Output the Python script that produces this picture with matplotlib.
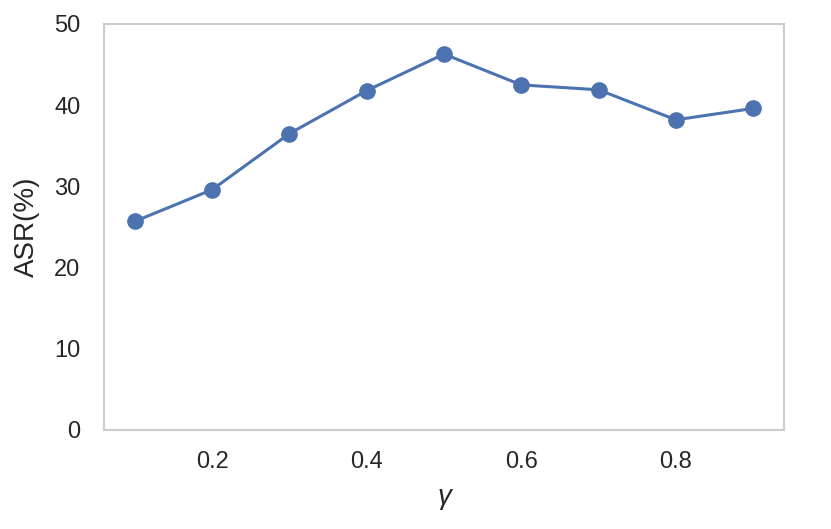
import matplotlib
matplotlib.use("Agg")
import matplotlib.pyplot as plt
import seaborn as sns

gamma = [0.1, 0.2, 0.3, 0.4, 0.5, 0.6, 0.7, 0.8, 0.9]
asr = [25.7, 29.6, 36.5, 41.8, 46.3, 42.5, 41.9, 38.2, 39.6]
yticks = [0, 10, 20, 30, 40, 50]

sns.set_theme(style="whitegrid")
plt.rcParams['font.family'] = ['Liberation Sans', 'DejaVu Sans']

fig = plt.figure(figsize=(8.31, 5.29), dpi=100)
ax = fig.add_axes([104/831, 1 - 430/529, (784-104)/831, (430-24)/529])
ax.plot(gamma, asr, color='#4c72b0', marker='o', markersize=11, linewidth=2.2)
ax.grid(False)
ax.set_ylim(0, 50)
ax.set_yticks(yticks)
ax.set_xticks([0.2, 0.4, 0.6, 0.8])
ax.tick_params(axis='y', labelsize=17, colors='.15', length=0, pad=17)
ax.tick_params(axis='x', labelsize=17, colors='.15', length=0, pad=15)
ax.set_ylabel('ASR(%)', fontsize=20, color='.15', labelpad=10)
ax.set_xlabel('γ', fontsize=20, color='.15', fontstyle='italic', labelpad=8)
for s in ax.spines.values():
    s.set_color('#cccccc')
    s.set_linewidth(1.5)

fig.savefig('out.png', dpi=100)
